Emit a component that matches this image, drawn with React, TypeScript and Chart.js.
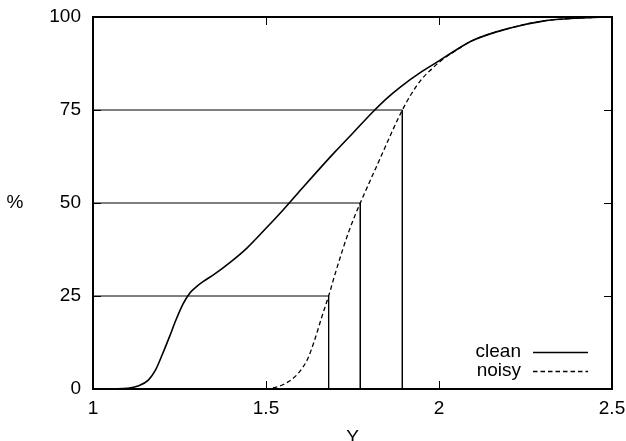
import React, { useEffect, useRef } from "react";
import { Chart, registerables } from "chart.js";

Chart.register(...registerables);

// ---- data ----
const seriesLabels = ["clean", "noisy"];
const cleanX = [1.0, 1.06, 1.1, 1.13, 1.16, 1.18, 1.2, 1.22, 1.24, 1.26, 1.28, 1.3, 1.32, 1.35, 1.4, 1.444, 1.5, 1.55, 1.6, 1.65, 1.7, 1.75, 1.81, 1.85, 1.89, 1.95, 2.0, 2.04, 2.1, 2.2, 2.3, 2.4, 2.5];
const cleanY = [0, 0.05, 0.2, 0.8, 2.4, 5, 9.2, 13.8, 18.6, 22.8, 25.8, 27.6, 29.0, 30.8, 34.3, 37.8, 43.2, 48.2, 53.5, 58.7, 63.8, 68.7, 74.6, 78.2, 81.3, 85.3, 88.2, 90.6, 93.8, 96.9, 98.9, 99.7, 100];
const noisyX = [1.0, 1.5, 1.52, 1.55, 1.58, 1.6, 1.62, 1.64, 1.66, 1.681, 1.7, 1.72, 1.74, 1.76, 1.7725, 1.8, 1.83, 1.86, 1.894, 1.92, 1.95, 1.98, 2.0, 2.04, 2.1, 2.2, 2.3, 2.4, 2.5];
const noisyY = [0, 0, 0.3, 1.2, 3, 5, 8, 13, 19, 25, 31, 37, 42.5, 47.3, 50, 55.8, 62, 68.3, 75, 79.3, 83.3, 86.1, 87.8, 90.5, 93.8, 96.9, 98.9, 99.7, 100];
const quartileLevels = [25, 50, 75];
const noisyQuartileX = [1.681, 1.7725, 1.894];
const xTicks = [1, 1.5, 2, 2.5];
const yTicks = [0, 25, 50, 75, 100];
const xTitle = "Y";
const yTitle = "%";

const FONT = "Liberation Sans, Arial, Helvetica, sans-serif";
const FSIZE = 19;

const framePlugin = {
  id: "gnuFrame",
  afterDatasetsDraw(chart: any) {
    const { ctx, chartArea: a, scales } = chart;
    ctx.save();
    ctx.strokeStyle = "#000";
    ctx.lineWidth = 1;
    ctx.beginPath();
    for (const v of xTicks) {
      const px = Math.round(scales.x.getPixelForValue(v)) + 0.5;
      ctx.moveTo(px, a.bottom);
      ctx.lineTo(px, a.bottom - 8);
      ctx.moveTo(px, a.top);
      ctx.lineTo(px, a.top + 8);
    }
    for (const v of yTicks) {
      const py = Math.round(scales.y.getPixelForValue(v)) + 0.5;
      ctx.moveTo(a.left, py);
      ctx.lineTo(a.left + 8, py);
      ctx.moveTo(a.right, py);
      ctx.lineTo(a.right - 8, py);
    }
    ctx.stroke();
    ctx.lineWidth = 2;
    ctx.strokeRect(a.left, a.top, a.right - a.left, a.bottom - a.top);

    // legend (gnuplot style)
    ctx.font = `${FSIZE}px ${FONT}`;
    ctx.fillStyle = "#000";
    ctx.textAlign = "right";
    ctx.textBaseline = "middle";
    const legendRows = [352, 371];
    [0, 1].forEach((i) => {
      const ds = chart.data.datasets[i];
      const y = legendRows[i];
      ctx.fillText(ds.label, 521, y);
      ctx.beginPath();
      ctx.lineWidth = ds.borderWidth;
      ctx.setLineDash(ds.borderDash || []);
      ctx.moveTo(533, y + 0.5);
      ctx.lineTo(588, y + 0.5);
      ctx.stroke();
      ctx.setLineDash([]);
    });

    // axis titles
    ctx.textAlign = "center";
    ctx.fillText(yTitle, 15, (a.top + a.bottom) / 2);
    ctx.textBaseline = "alphabetic";
    ctx.fillText(xTitle, (a.left + a.right) / 2, 443);
    ctx.restore();
  },
};

const zeroPad = (s: any) => {
  s.paddingLeft = 0;
  s.paddingRight = 0;
  s.paddingTop = 0;
  s.paddingBottom = 0;
};

export default function App() {
  const ref = useRef<HTMLCanvasElement | null>(null);
  useEffect(() => {
    if (!ref.current) return;
    const mk = (xs: number[], ys: number[]) => xs.map((x, i) => ({ x, y: ys[i] }));
    const quartileSets = quartileLevels.map((lvl, i) => ({
      label: "q" + lvl,
      data: [
        { x: 1, y: lvl },
        { x: noisyQuartileX[i], y: lvl },
        { x: noisyQuartileX[i], y: 0 },
      ],
      borderColor: "#000",
      borderWidth: 1,
      pointRadius: 0,
      tension: 0,
      fill: false,
    }));
    const chart = new Chart(ref.current, {
      type: "line",
      data: {
        datasets: [
          {
            label: seriesLabels[0],
            data: mk(cleanX, cleanY),
            borderColor: "#000",
            borderWidth: 1.6,
            pointRadius: 0,
            cubicInterpolationMode: "monotone",
            fill: false,
          },
          {
            label: seriesLabels[1],
            data: mk(noisyX, noisyY),
            borderColor: "#000",
            borderWidth: 1.3,
            borderDash: [4.5, 3],
            pointRadius: 0,
            cubicInterpolationMode: "monotone",
            fill: false,
          },
          ...quartileSets,
        ] as any,
      },
      options: {
        animation: false,
        responsive: false,
        devicePixelRatio: 1,
        layout: { padding: { left: 0, right: 14, top: 17, bottom: 0 } },
        plugins: { legend: { display: false }, tooltip: { enabled: false } },
        scales: {
          x: {
            type: "linear",
            min: 1,
            max: 2.5,
            afterFit: (s: any) => {
              s.height = 52;
              zeroPad(s);
            },
            afterBuildTicks: (s: any) => {
              s.ticks = xTicks.map((v) => ({ value: v }));
            },
            grid: { display: false, drawTicks: false },
            border: { display: false },
            ticks: {
              padding: 8,
              color: "#000",
              font: { size: FSIZE, family: FONT },
              maxRotation: 0,
              autoSkip: false,
              callback: (v: any) => String(v),
            },
          },
          y: {
            type: "linear",
            min: 0,
            max: 100,
            afterFit: (s: any) => {
              s.width = 93;
              zeroPad(s);
            },
            afterBuildTicks: (s: any) => {
              s.ticks = yTicks.map((v) => ({ value: v }));
            },
            grid: { display: false, drawTicks: false },
            border: { display: false },
            ticks: {
              padding: 12,
              color: "#000",
              font: { size: FSIZE, family: FONT },
              callback: (v: any) => String(v),
            },
          },
        },
      } as any,
      plugins: [framePlugin],
    });
    return () => chart.destroy();
  }, []);
  return (
    <div style={{ position: "fixed", left: 0, top: 0, width: 626, height: 441, background: "#fff" }}>
      <canvas ref={ref} width={626} height={441} style={{ display: "block", width: 626, height: 441 }} />
    </div>
  );
}
